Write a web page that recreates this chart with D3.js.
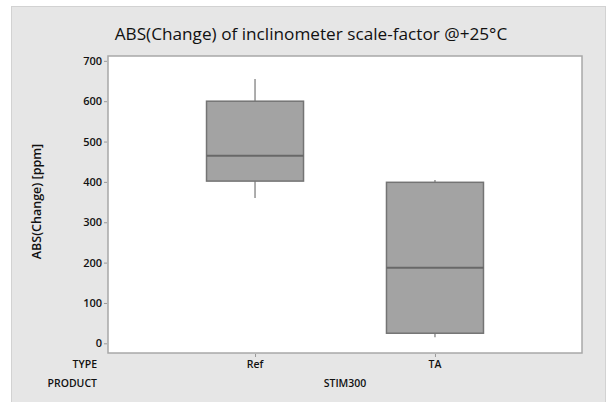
<!DOCTYPE html>
<html>
<head>
<meta charset="utf-8">
<script src="https://cdn.jsdelivr.net/npm/d3@7"></script>
<style>
  body { margin: 0; background: #fff; }
  text { font-family: "Open Sans", "Noto Sans", sans-serif; fill: #111; }
</style>
</head>
<body>
<div id="chart"></div>
<script>
// data
var types = ["Ref", "TA"];
var product = "STIM300";
var whiskerLow = [360, 15];
var q1 = [402, 25];
var medians = [465, 187];
var q3 = [600, 399];
var whiskerHigh = [655, 405];
var yTicks = [0, 100, 200, 300, 400, 500, 600, 700];

var W = 611, H = 402;
var plot = {left: 108, right: 582, top: 56, bottom: 353};

var svg = d3.select("#chart")
    .append("svg")
    .attr("width", W)
    .attr("height", H);

// outer grey panel
svg.append("rect")
    .attr("x", 11.5).attr("y", 6.5)
    .attr("width", 594).attr("height", H)
    .attr("fill", "#e6e6e6")
    .attr("stroke", "#d2d2d2");

// plot area
svg.append("rect")
    .attr("x", plot.left).attr("y", plot.top)
    .attr("width", plot.right - plot.left)
    .attr("height", plot.bottom - plot.top)
    .attr("fill", "#fff")
    .attr("stroke", "#a8a8a8")
    .attr("stroke-width", 1.5);

var x = d3.scalePoint()
    .domain(types)
    .range([plot.left, plot.right])
    .padding(0.817);

var y = d3.scaleLinear()
    .domain([-24, 712])
    .range([plot.bottom, plot.top]);

var boxW = 97;

// Y axis
var yAxis = d3.axisLeft(y).tickValues(yTicks).tickSize(3).tickPadding(2);
var gy = svg.append("g")
    .attr("transform", "translate(" + (plot.left - 1) + ",0)")
    .call(yAxis);
gy.select(".domain").remove();
gy.selectAll(".tick line").attr("stroke", "#999");
gy.selectAll(".tick text")
    .style("font-size", "11px")
    .style("font-weight", 600)
    .attr("fill", "#222");

// X axis ticks only
var xAxis = d3.axisBottom(x).tickSize(3).tickFormat("");
var gx = svg.append("g")
    .attr("transform", "translate(0," + (plot.bottom + 1) + ")")
    .call(xAxis);
gx.select(".domain").remove();
gx.selectAll(".tick line").attr("stroke", "#999");

// boxes
var boxes = types.map(function (t, i) {
    return {type: t, lo: whiskerLow[i], q1: q1[i], med: medians[i], q3: q3[i], hi: whiskerHigh[i]};
});

var g = svg.append("g");
boxes.forEach(function (d) {
    var cx = x(d.type);
    g.append("line")
        .attr("x1", cx).attr("x2", cx)
        .attr("y1", y(d.hi)).attr("y2", y(d.q3))
        .attr("stroke", "#777").attr("stroke-width", 1.2);
    g.append("line")
        .attr("x1", cx).attr("x2", cx)
        .attr("y1", y(d.q1)).attr("y2", y(d.lo))
        .attr("stroke", "#777").attr("stroke-width", 1.2);
    g.append("rect")
        .attr("x", cx - boxW / 2)
        .attr("y", y(d.q3))
        .attr("width", boxW)
        .attr("height", y(d.q1) - y(d.q3))
        .attr("fill", "#a3a3a3")
        .attr("stroke", "#747474")
        .attr("stroke-width", 1.5);
    g.append("line")
        .attr("x1", cx - boxW / 2).attr("x2", cx + boxW / 2)
        .attr("y1", y(d.med)).attr("y2", y(d.med))
        .attr("stroke", "#686868").attr("stroke-width", 2);
});

// category rows
function label(tx, ty, anchor, s) {
    svg.append("text")
        .attr("x", tx).attr("y", ty)
        .attr("text-anchor", anchor)
        .style("font-size", "10.5px")
        .style("font-weight", 600)
        .text(s);
}
label(97, 368, "end", "TYPE");
label(97, 387, "end", "PRODUCT");
types.forEach(function (t) {
    label(x(t), 368, "middle", t);
});
label((x(types[0]) + x(types[1])) / 2, 387, "middle", product);

// axis title
svg.append("text")
    .attr("transform", "translate(41," + ((plot.top + plot.bottom) / 2 - 3) + ") rotate(-90)")
    .attr("text-anchor", "middle")
    .style("font-size", "12.5px")
    .style("font-weight", 600)
    .text("ABS(Change) [ppm]");

// chart title
svg.append("text")
    .attr("x", 311).attr("y", 40)
    .attr("text-anchor", "middle")
    .style("font-size", "17.2px")
    .style("font-weight", 500)
    .text("ABS(Change) of inclinometer scale-factor @+25°C");
</script>
</body>
</html>
